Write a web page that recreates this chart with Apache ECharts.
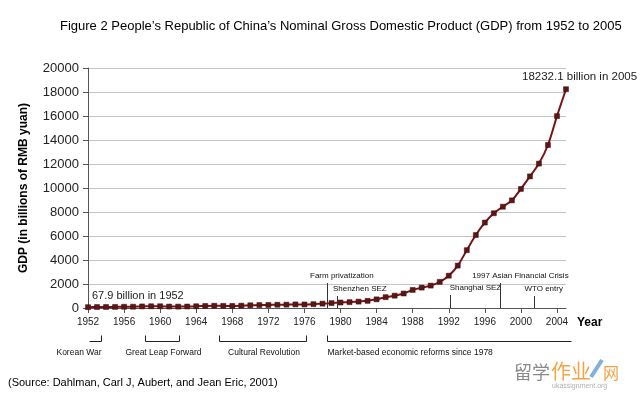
<!DOCTYPE html>
<html><head><meta charset="utf-8">
<script src="https://cdn.jsdelivr.net/npm/echarts@6/dist/echarts.min.js"></script>
<style>html,body{margin:0;padding:0;background:#fff}#c{width:641px;height:395px}</style>
</head><body><div id="c"></div>
<script>
var years = [1952,1953,1954,1955,1956,1957,1958,1959,1960,1961,1962,1963,1964,1965,1966,1967,1968,1969,1970,1971,1972,1973,1974,1975,1976,1977,1978,1979,1980,1981,1982,1983,1984,1985,1986,1987,1988,1989,1990,1991,1992,1993,1994,1995,1996,1997,1998,1999,2000,2001,2002,2003,2004,2005];
var gdp = [67.9,82.4,85.9,91.0,102.8,106.8,130.7,143.9,145.7,122.0,114.9,123.3,145.4,171.6,186.8,177.4,172.3,193.8,225.3,242.6,251.8,272.1,279.0,299.7,294.4,320.2,364.5,406.3,454.6,489.2,532.3,596.3,720.8,901.6,1027.5,1205.9,1504.3,1699.2,1866.8,2178.2,2692.4,3533.4,4819.8,6079.4,7117.7,7897.3,8440.2,8967.7,9921.5,10965.5,12033.3,13582.3,15987.8,18232.1];
var yTicks = [0,2000,4000,6000,8000,10000,12000,14000,16000,18000,20000];
var eventNames = ['Farm privatization','Shenzhen SEZ','Shanghai SEZ','1997 Asian Financial Crisis','WTO entry'];
var eventYears = [1978.5,1979.6,1992.1,1997.7,2001.5];
var periodNames = ['Korean War','Great Leap Forward','Cultural Revolution','Market-based economic reforms since 1978'];
var periodStart = [1952.1,1958.3,1966.5,1978.5];
var periodEnd = [1953.4,1962.1,1976.2,2005.6];
var startLabel = '67.9 billion in 1952';
var endLabel = '18232.1 billion in 2005';

var FONT = 'Liberation Sans, Arial, sans-serif';
var chart = echarts.init(document.getElementById('c'));
var seriesData = years.map(function(y,i){return [y,gdp[i]];});
chart.setOption({
  animation:false,
  title:{text:'Figure 2 People\u2019s Republic of China\u2019s Nominal Gross Domestic Product (GDP) from 1952 to 2005',left:60,top:20,padding:0,
    textStyle:{fontFamily:FONT,fontSize:13,fontWeight:'normal',color:'#000'}},
  grid:{left:88,right:75,top:68,bottom:87},
  xAxis:{type:'value',min:1952,max:2005,interval:4,
    name:'Year',nameLocation:'end',nameGap:11,
    nameTextStyle:{fontFamily:FONT,fontSize:12,fontWeight:'bold',color:'#000',verticalAlign:'top',padding:[9,0,0,0]},
    axisLine:{lineStyle:{color:'#555',width:1}},
    axisTick:{show:true,length:5,lineStyle:{color:'#555'}},
    axisLabel:{showMaxLabel:false,margin:9,fontFamily:FONT,fontSize:10,color:'#222',formatter:function(v){return String(v);}},
    splitLine:{show:false}},
  yAxis:{type:'value',min:yTicks[0],max:yTicks[yTicks.length-1],interval:2000,
    name:'GDP (in billions of RMB yuan)',nameLocation:'middle',nameGap:58,
    nameTextStyle:{fontFamily:FONT,fontSize:12,fontWeight:'bold',color:'#000'},
    axisLine:{show:true,lineStyle:{color:'#555'}},
    axisTick:{show:true,length:5,lineStyle:{color:'#555'}},
    axisLabel:{margin:9,fontFamily:FONT,fontSize:13,color:'#222',formatter:function(v){return String(v);}},
    splitLine:{lineStyle:{color:'#c4c4c4',width:1}}},
  series:[{type:'line',data:seriesData,smooth:0.3,symbol:'rect',symbolSize:5,showAllSymbol:true,
    lineStyle:{color:'#7a1414',width:2},
    itemStyle:{color:'#5c1616',borderColor:'#3a0a0a',borderWidth:0.5},z:3}]
});

function px(x,y){return chart.convertToPixel({xAxisIndex:0,yAxisIndex:0},[x,y]);}
var g = [];
var base = px(1952,0)[1];
var evTop = [25,12,13,25,12];
var evLabelDx = [-17,-4,0,-28,-10];
eventYears.forEach(function(y,i){
  var p = px(y,0);
  var x = Math.round(p[0])+0.5;
  g.push({type:'line',shape:{x1:x,y1:base,x2:x,y2:base-evTop[i]},style:{stroke:'#333',lineWidth:1},z:5});
  g.push({type:'text',x:p[0]+evLabelDx[i],y:base-evTop[i]-7,style:{text:eventNames[i],font:'8px '+FONT,fill:'#111',textVerticalAlign:'middle'},z:5});
});
var hasLeft=[false,true,true,true], hasRight=[true,true,true,false];
var by = base+33.5;
periodNames.forEach(function(n,i){
  var x1 = Math.round(px(periodStart[i],0)[0])+0.5, x2 = Math.round(px(periodEnd[i],0)[0])+0.5;
  g.push({type:'line',shape:{x1:x1,y1:by,x2:x2,y2:by},style:{stroke:'#222',lineWidth:1}});
  if(hasLeft[i]) g.push({type:'line',shape:{x1:x1,y1:by,x2:x1,y2:by-6},style:{stroke:'#222',lineWidth:1}});
  if(hasRight[i]) g.push({type:'line',shape:{x1:x2,y1:by,x2:x2,y2:by-6},style:{stroke:'#222',lineWidth:1}});
  var st = {text:n,font:'8.5px '+FONT,fill:'#111',textVerticalAlign:'middle'};
  if(i===3){ st.textAlign='left'; g.push({type:'text',x:x1,y:by+11,style:st}); }
  else if(i===0){ st.textAlign='right'; g.push({type:'text',x:x2,y:by+11,style:st}); }
  else { st.textAlign='center'; g.push({type:'text',x:(x1+x2)/2+1,y:by+11,style:st}); }
});
var p0 = px(years[0],gdp[0]);
g.push({type:'text',x:p0[0]+4,y:p0[1]-11,style:{text:startLabel,font:'11px '+FONT,fill:'#222',textVerticalAlign:'middle'}});
var pn = px(years[years.length-1],gdp[gdp.length-1]);
g.push({type:'text',x:pn[0]-44,y:pn[1]-12,style:{text:endLabel,font:'11.5px '+FONT,fill:'#222',textVerticalAlign:'middle'}});
g.push({type:'text',x:8,y:383,style:{text:'(Source: Dahlman, Carl J, Aubert, and Jean Eric, 2001)',font:'11px '+FONT,fill:'#000',textVerticalAlign:'middle'}});
g.push({type:'text',x:514,y:372,style:{text:'\u7559\u5b66',font:'18px "Noto Sans CJK SC"',fill:'#8a8a8a',textVerticalAlign:'middle'}});
g.push({type:'text',x:551,y:371,style:{text:'\u4f5c\u4e1a',font:'20px "Noto Sans CJK SC"',fill:'#f4a445',textVerticalAlign:'middle'}});
g.push({type:'line',shape:{x1:591,y1:377,x2:602,y2:360},style:{stroke:'#7fb0e0',lineWidth:4}});
g.push({type:'text',x:603,y:373,style:{text:'\u7f51',font:'16px "Noto Sans CJK SC"',fill:'#f4a445',textVerticalAlign:'middle'}});
g.push({type:'text',x:552,y:386,style:{text:'ukassignment.org',font:'7px '+FONT,fill:'#b0b0b0',textVerticalAlign:'middle'}});
chart.setOption({graphic:g});
</script></body></html>
